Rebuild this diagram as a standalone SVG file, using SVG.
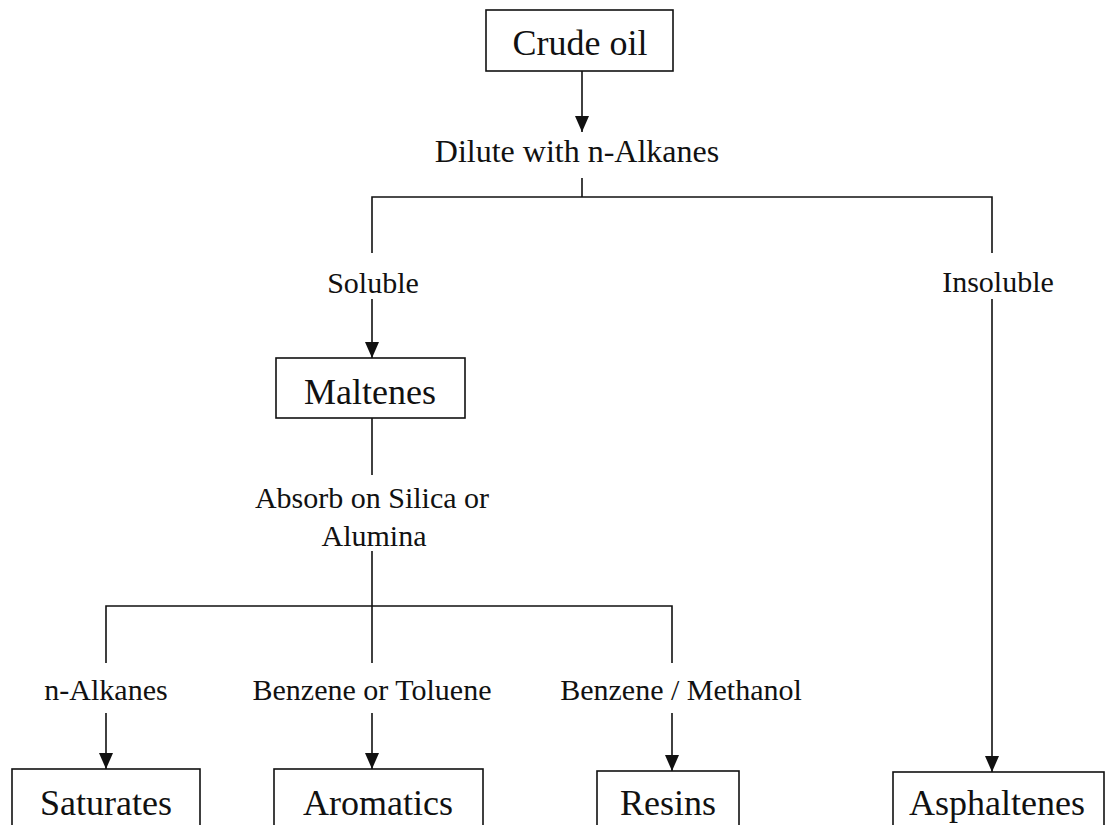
<svg xmlns="http://www.w3.org/2000/svg" width="1107" height="825" viewBox="0 0 1107 825">
<defs>
<marker id="arr" markerWidth="16" markerHeight="14" refX="16" refY="7" orient="auto" markerUnits="userSpaceOnUse" viewBox="0 0 16 14">
<path d="M0,0 L16,7 L0,14 Z" fill="#111"/>
</marker>
<style>
.box{fill:#fff;stroke:#111;stroke-width:1.6}
.node{font-family:"Liberation Serif","Times New Roman",serif;font-size:36px;fill:#111;text-anchor:middle}
.lbl{font-family:"Liberation Serif","Times New Roman",serif;font-size:30px;fill:#111;text-anchor:middle}
.ln{fill:none;stroke:#111;stroke-width:1.6}
.ar{fill:none;stroke:#111;stroke-width:1.6;marker-end:url(#arr)}
</style>
</defs>
<rect width="1107" height="825" fill="#fff"/>
<g id="connectors">
<path class="ar" d="M582,71 V132"/>
<path class="ln" d="M582,178 V197"/>
<path class="ln" d="M372,253 V197 H992 V253"/>
<path class="ar" d="M372,299 V358"/>
<path class="ar" d="M992,299 V772"/>
<path class="ln" d="M372,418 V475"/>
<path class="ln" d="M372,551 V663"/>
<path class="ln" d="M106,663 V606 H672 V663"/>
<path class="ar" d="M106,713 V769"/>
<path class="ar" d="M372,713 V769"/>
<path class="ar" d="M672,713 V771"/>
</g>
<g id="labels">
<text class="lbl" x="577" y="162" style="font-size:32px">Dilute with n-Alkanes</text>
<text class="lbl" x="373" y="293">Soluble</text>
<text class="lbl" x="998" y="292">Insoluble</text>
<text class="lbl" x="372" y="508">Absorb on Silica or</text>
<text class="lbl" x="374" y="546">Alumina</text>
<text class="lbl" x="106" y="700">n-Alkanes</text>
<text class="lbl" x="372" y="700">Benzene or Toluene</text>
<text class="lbl" x="681" y="700">Benzene / Methanol</text>
</g>
<g id="crude-oil">
<rect class="box" x="486" y="10" width="187" height="61"/>
<text class="node" x="580" y="55">Crude oil</text>
</g>
<g id="maltenes">
<rect class="box" x="276" y="358" width="189" height="60"/>
<text class="node" x="370" y="404">Maltenes</text>
</g>
<g id="saturates">
<rect class="box" x="12" y="769" width="188" height="70"/>
<text class="node" x="106" y="815">Saturates</text>
</g>
<g id="aromatics">
<rect class="box" x="274" y="769" width="209" height="70"/>
<text class="node" x="378" y="815">Aromatics</text>
</g>
<g id="resins">
<rect class="box" x="597" y="771" width="142" height="70"/>
<text class="node" x="668" y="815">Resins</text>
</g>
<g id="asphaltenes">
<rect class="box" x="893" y="772" width="211" height="70"/>
<text class="node" x="997" y="815">Asphaltenes</text>
</g>
</svg>
